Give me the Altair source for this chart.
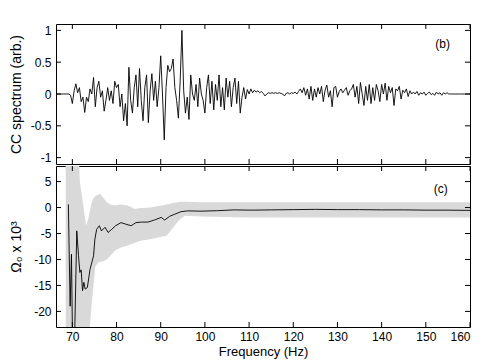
import altair as alt
import pandas as pd

# ---------------- data ----------------
FREQ_START = 66.4
FREQ_STEP = 0.4

cc_spectrum = [
    0, 0, 0, 0, 0, 0, 0, 0,
    -0.02, -0.15, 0.05, 0.16, 0.02, 0.1, -0.12, -0.05, -0.29, -0.05,
    -0.12, 0.08, 0.0, 0.26, -0.2, 0.1, 0.2, -0.05, 0.05, -0.27,
    -0.1, 0.1, -0.1, 0.05, -0.15, 0.2, 0.1, 0.15, -0.2, 0.0,
    -0.42, -0.15, -0.5, 0.42, -0.1, -0.3, 0.1, 0.3, -0.2, 0.4,
    -0.1, -0.42, 0.1, 0.3, -0.45, 0.05, 0.32, -0.1, 0.2, -0.2,
    0.1, 0.6, 0.0, -0.72, 0.1, 0.45, 0.35, 0.4, 0.55, 0.1,
    -0.1, -0.38, 0.2, 1.0, 0.05, -0.3, -0.05, -0.4, 0.3, 0.0,
    -0.1, 0.15, -0.2, 0.25, 0.0, -0.1, -0.3, 0.1, 0.3, -0.15,
    0.2, -0.25, 0.15, -0.1, 0.3, -0.2, 0.1, -0.25, 0.25, -0.05,
    0.2, -0.2, 0.1, 0.25, -0.15, 0.2, -0.3, -0.05, 0.1, -0.08,
    0.07, 0.0, 0.08, 0.02, 0.06, 0.03, 0.05, 0.02, 0.04, 0.01,
    -0.03, 0.0, 0.02, 0.01, 0.02, 0.01, 0.02, 0.01, 0.02, 0.01,
    0.0, -0.03, 0.01, 0.02, 0.0, 0.02, 0.01, 0.03, 0.0, 0.04,
    0.08, 0.02, 0.1, -0.02, 0.08, -0.08, 0.12, -0.1, 0.08, -0.05,
    0.1, 0.0, 0.12, -0.12, 0.06, 0.14, -0.05, 0.05, -0.2, 0.1,
    0.12, -0.05, 0.04, 0.08, 0.02, 0.06, 0.1, -0.02, 0.05, 0.08,
    0.15, -0.05, 0.12, -0.15, 0.18, 0.0, -0.18, 0.12, -0.1, 0.15,
    -0.15, 0.1, -0.1, 0.15, 0.05, -0.12, 0.15, 0.0, 0.17, -0.1,
    0.12, 0.02, 0.1, -0.18, 0.08, 0.05, 0.12, -0.08, 0.06, 0.02,
    0.08, -0.04, 0.05, 0.0, 0.03, 0.0, 0.04, -0.02, 0.02, 0.0,
    0.03, -0.02, 0.01, 0.03, -0.01, 0.01, -0.02, 0.03, 0.0, 0.02,
    -0.02, 0.02, 0.0, 0.02, 0.0,
    0, 0, 0, 0, 0, 0, 0, 0, 0, 0, 0, 0,
]

mean_freq = [69.1, 69.5, 69.8, 70.1, 70.4, 71.0, 71.4, 71.7, 72.0, 72.3,
             72.6, 72.9, 73.4, 74.0, 74.8, 75.1, 75.5, 76.1, 76.6, 77.4,
             78.1, 78.9, 79.8, 81.0, 82.1, 83.3, 84.4, 85.6, 87.1, 88.6,
             90.1, 90.9, 92.0, 93.1, 94.6, 96.1, 99.1, 102.9, 106.6, 110.4,
             115, 120, 125, 130, 135, 140, 145, 150, 155, 160]
mean_omega = [0.6, -19, -9, -30, -30, -4.5, -9.3, -12.5, -12.0, -16.0,
              -14.4, -15.7, -15.4, -11.9, -9.3, -6.1, -4.2, -3.5, -4.5, -3.8,
              -4.8, -4.2, -3.5, -2.9, -3.2, -3.5, -2.9, -2.8, -2.8, -2.4,
              -1.9, -2.4, -1.7, -1.3, -0.8, -0.64, -0.7, -0.6, -0.45, -0.5,
              -0.45, -0.4, -0.35, -0.4, -0.4, -0.45, -0.45, -0.5, -0.5, -0.55]

band_freq = [68.5, 71.4, 71.7, 72.5, 73.1, 73.6, 74.0, 74.4, 74.8, 75.2,
             75.9, 76.3, 77.1, 77.8, 78.6, 79.7, 81.0, 82.5, 84.1, 85.5,
             87.6, 91.4, 93.1, 94.4, 95.5, 99.1, 110, 120, 130, 140, 150, 160]
band_upper = [12, 12, 4.8, 0.3, -3.5, -2.2, -0.5, 1.0, 1.8, 2.2,
              2.5, 2.6, 1.8, 1.0, 0.6, 0.4, 0.6, 0.4, -0.3, -0.1,
              0.0, 0.6, 0.9, 1.1, 1.1, 1.0, 1.0, 1.0, 1.0, 1.0, 1.0, 1.0]
band_lower = [-30, -30, -30, -30, -30, -30, -22.7, -18.3, -15.1, -11.3,
              -10.6, -10.5, -10.3, -10.0, -9.3, -8.2, -7.7, -7.3, -6.8, -6.4,
              -6.1, -5.4, -3.5, -2.2, -1.6, -1.7, -1.9, -1.9, -1.9, -1.9, -1.9, -1.9]

x_ticks = [70, 80, 90, 100, 110, 120, 130, 140, 150, 160]
top_y_ticks = [-1, -0.5, 0, 0.5, 1]
bot_y_ticks = [-20, -15, -10, -5, 0, 5]

panel_labels = ["(b)", "(c)"]
label_freq = [153.8, 153.4]
label_val = [0.79, 3.5]

# ---------------- build ----------------
W, H1, H2 = 414, 140, 161
FONT = "Liberation Sans"
TICK = 5

spec_df = pd.DataFrame({
    "f": [FREQ_START + FREQ_STEP * i for i in range(len(cc_spectrum))],
    "v": cc_spectrum,
})
mean_df = pd.DataFrame({"f": mean_freq, "v": mean_omega})
band_df = pd.DataFrame({"f": band_freq, "hi": band_upper, "lo": band_lower})
xt_df = pd.DataFrame({"f": x_ticks})
yt1_df = pd.DataFrame({"v": top_y_ticks})
yt2_df = pd.DataFrame({"v": bot_y_ticks})
lab1_df = pd.DataFrame({"f": [label_freq[0]], "v": [label_val[0]], "t": [panel_labels[0]]})
lab2_df = pd.DataFrame({"f": [label_freq[1]], "v": [label_val[1]], "t": [panel_labels[1]]})

xs = alt.Scale(domain=[66.3, 160], nice=False, zero=False)
ys1 = alt.Scale(domain=[-1.1, 1.1], nice=False, zero=False)
ys2 = alt.Scale(domain=[-23, 8], nice=False, zero=False)

LABEL_EXPR = "'' + datum.value"


def y_axis(values, title):
    return alt.Axis(values=values, ticks=False, domain=False, grid=False,
                    labelExpr=LABEL_EXPR, title=title, labelPadding=5,
                    minExtent=27, maxExtent=27, titlePadding=6,
                    titleFontSize=14)


bottom_x_axis = alt.Axis(values=x_ticks, ticks=False, domain=False, grid=False,
                         labelPadding=4, title="Frequency (Hz)", titlePadding=3,
                         titleFontSize=13)

# shared encodings so that every layer carries the same axis definition
X_TOP = alt.X("f:Q", scale=xs, axis=None)
Y_TOP = alt.Y("v:Q", scale=ys1, axis=y_axis(top_y_ticks, "CC spectrum (arb.)"))
X_BOT = alt.X("f:Q", scale=xs, axis=bottom_x_axis)
Y_BOT_AXIS = y_axis(bot_y_ticks, "Ω₀ x 10³")
Y_BOT = alt.Y("v:Q", scale=ys2, axis=Y_BOT_AXIS)


def tick_layers(xenc, yenc, ydf, h):
    base_x = alt.Chart(xt_df).mark_rule(color="black", strokeWidth=1)
    base_y = alt.Chart(ydf).mark_rule(color="black", strokeWidth=1)
    return [
        base_x.encode(x=xenc, y=alt.value(0), y2=alt.value(TICK)),
        base_x.encode(x=xenc, y=alt.value(h), y2=alt.value(h - TICK)),
        base_y.encode(y=yenc, x=alt.value(0), x2=alt.value(TICK)),
        base_y.encode(y=yenc, x=alt.value(W), x2=alt.value(W - TICK)),
    ]


# top panel
top_line = alt.Chart(spec_df).mark_line(color="black", strokeWidth=0.9, clip=True).encode(
    x=X_TOP, y=Y_TOP,
)
top_text = alt.Chart(lab1_df).mark_text(fontSize=12, font=FONT, color="black").encode(
    x=X_TOP, y=Y_TOP, text="t:N",
)
top = alt.layer(top_line, top_text, *tick_layers(X_TOP, Y_TOP, yt1_df, H1)).properties(
    width=W, height=H1)

# bottom panel
band = alt.Chart(band_df).mark_area(color="#d9d9d9", clip=True).encode(
    x=X_BOT,
    y=alt.Y("hi:Q", scale=ys2, axis=Y_BOT_AXIS),
    y2="lo:Q",
)
mean_line = alt.Chart(mean_df).mark_line(color="black", strokeWidth=0.9, clip=True).encode(
    x=X_BOT, y=Y_BOT,
)
bot_text = alt.Chart(lab2_df).mark_text(fontSize=12, font=FONT, color="black").encode(
    x=X_BOT, y=Y_BOT, text="t:N",
)
bottom = alt.layer(band, mean_line, bot_text, *tick_layers(X_BOT, Y_BOT, yt2_df, H2)).properties(
    width=W, height=H2)

chart = alt.vconcat(top, bottom, spacing=0).properties(
    padding={"left": 0, "top": 15, "right": 2, "bottom": 0},
    background="white",
).configure_view(
    stroke="black", strokeWidth=1
).configure_axis(
    labelFont=FONT, titleFont=FONT, labelFontSize=12,
    labelColor="black", titleColor="black", titleFontWeight="normal",
)

chart.save("out.html", embed_options={"renderer": "svg", "actions": False})
